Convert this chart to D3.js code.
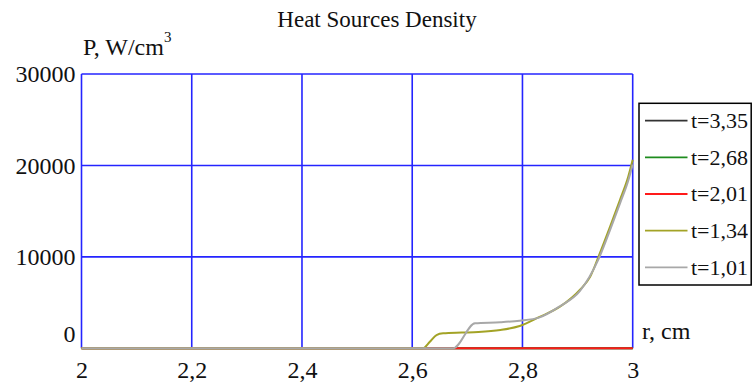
<!DOCTYPE html>
<html>
<head>
<meta charset="utf-8">
<script src="https://cdn.jsdelivr.net/npm/d3@7"></script>
<style>
html,body{margin:0;padding:0;background:#fff;}
svg{display:block;font-family:"Liberation Serif","Times New Roman",serif;}
</style>
</head>
<body>
<svg id="chart" width="752" height="383"></svg>
<script>
// ---- data ----
const xTicks = [2, 2.2, 2.4, 2.6, 2.8, 3];
const xTickLabels = ["2", "2,2", "2,4", "2,6", "2,8", "3"];
const yTicks = [0, 10000, 20000, 30000];
const yTickLabels = ["0", "10000", "20000", "30000"];

const seriesNames = ["t=3,35", "t=2,68", "t=2,01", "t=1,34", "t=1,01"];
const seriesColors = ["#333333", "#1e8c1e", "#ff1a1a", "#a3a326", "#a8a8a8"];

const r_t335 = [2, 3];
const p_t335 = [0, 0];
const r_t268 = [2, 3];
const p_t268 = [0, 0];
const r_t201 = [2, 3];
const p_t201 = [0, 0];
const r_t134 = [2, 2.619, 2.632, 2.644, 2.656, 2.69, 2.72, 2.76, 2.795, 2.83, 2.868, 2.904, 2.923, 2.938, 2.959, 2.977, 2.992, 3.0];
const p_t134 = [0, 0, 720, 1450, 1640, 1720, 1780, 2000, 2440, 3400, 4550, 6380, 7840, 10030, 13310, 16240, 18790, 20620];
const r_t101 = [2, 2.674, 2.714, 2.76, 2.795, 2.83, 2.868, 2.904, 2.938, 2.959, 2.977, 2.992, 3.0];
const p_t101 = [0, 0, 2740, 2850, 3020, 3350, 4600, 6250, 9750, 12950, 15850, 18350, 20100];

const seriesR = [r_t335, r_t268, r_t201, r_t134, r_t101];
const seriesP = [p_t335, p_t268, p_t201, p_t134, p_t101];

// ---- drawing ----
const svg = d3.select("#chart");
const x = d3.scaleLinear().domain([2, 3]).range([81.5, 632.7]);
const y = d3.scaleLinear().domain([0, 30000]).range([348.3, 74]);

const gridColor = "#2424ff";

// grid lines
svg.append("g").selectAll("line.v").data(xTicks).join("line")
  .attr("x1", d => x(d)).attr("x2", d => x(d))
  .attr("y1", y(30000)).attr("y2", y(0))
  .attr("stroke", gridColor).attr("stroke-width", 1.6);
svg.append("g").selectAll("line.h").data(yTicks.filter(d => d > 0)).join("line")
  .attr("x1", x(2)).attr("x2", x(3))
  .attr("y1", d => y(d)).attr("y2", d => y(d))
  .attr("stroke", gridColor).attr("stroke-width", 1.6);

// series
const line = d3.line().x(d => x(d[0])).y(d => y(d[1])).curve(d3.curveMonotoneX);
seriesR.forEach((rs, i) => {
  const pts = rs.map((r, j) => [r, seriesP[i][j]]);
  svg.append("path").datum(pts)
    .attr("d", line)
    .attr("fill", "none")
    .attr("stroke", seriesColors[i])
    .attr("stroke-width", 2)
    .attr("stroke-linejoin", "round");
});

// x tick labels
const xAxis = d3.axisBottom(x).tickValues(xTicks)
  .tickFormat((d, i) => xTickLabels[i]).tickSize(0).tickPadding(0);
const gx = svg.append("g").attr("transform", "translate(0,361)").call(xAxis);
gx.select(".domain").remove();
gx.selectAll("text").attr("font-size", 24).attr("fill", "#111")
  .attr("font-family", "Liberation Serif, serif").attr("dy", "0.71em");

// y tick labels
const yAxis = d3.axisLeft(y).tickValues(yTicks)
  .tickFormat((d, i) => yTickLabels[i]).tickSize(0).tickPadding(6);
const gy = svg.append("g").attr("transform", "translate(" + x(2) + ",0)").call(yAxis);
gy.select(".domain").remove();
gy.selectAll("text").attr("font-size", 24).attr("fill", "#111")
  .attr("font-family", "Liberation Serif, serif")
  .attr("dy", d => d === 0 ? "-0.27em" : "0.32em");

// title
svg.append("text").attr("x", 377).attr("y", 27)
  .attr("text-anchor", "middle").attr("font-size", 23).attr("fill", "#111")
  .text("Heat Sources Density");

// y axis label
const yl = svg.append("text").attr("x", 83).attr("y", 55).attr("font-size", 24).attr("fill", "#111");
yl.append("tspan").text("P, W/cm");
yl.append("tspan").attr("dy", -13).attr("font-size", 15).text("3");

// x axis label
svg.append("text").attr("x", 642).attr("y", 339).attr("font-size", 24).attr("fill", "#111")
  .text("r, cm");

// legend
const lg = svg.append("g");
lg.append("rect").attr("x", 639).attr("y", 103.3).attr("width", 112.2).attr("height", 181.7)
  .attr("fill", "#fff").attr("stroke", "#000").attr("stroke-width", 1.5);
const legY = d3.scalePoint().domain(seriesNames).range([120.7, 267.3]);
seriesNames.forEach((n, i) => {
  lg.append("line").attr("x1", 645).attr("x2", 687.5)
    .attr("y1", legY(n)).attr("y2", legY(n))
    .attr("stroke", seriesColors[i]).attr("stroke-width", 1.8);
  lg.append("text").attr("x", 691).attr("y", legY(n)).attr("dy", "0.33em")
    .attr("font-size", 22).attr("fill", "#111").text(n);
});
</script>
</body>
</html>
